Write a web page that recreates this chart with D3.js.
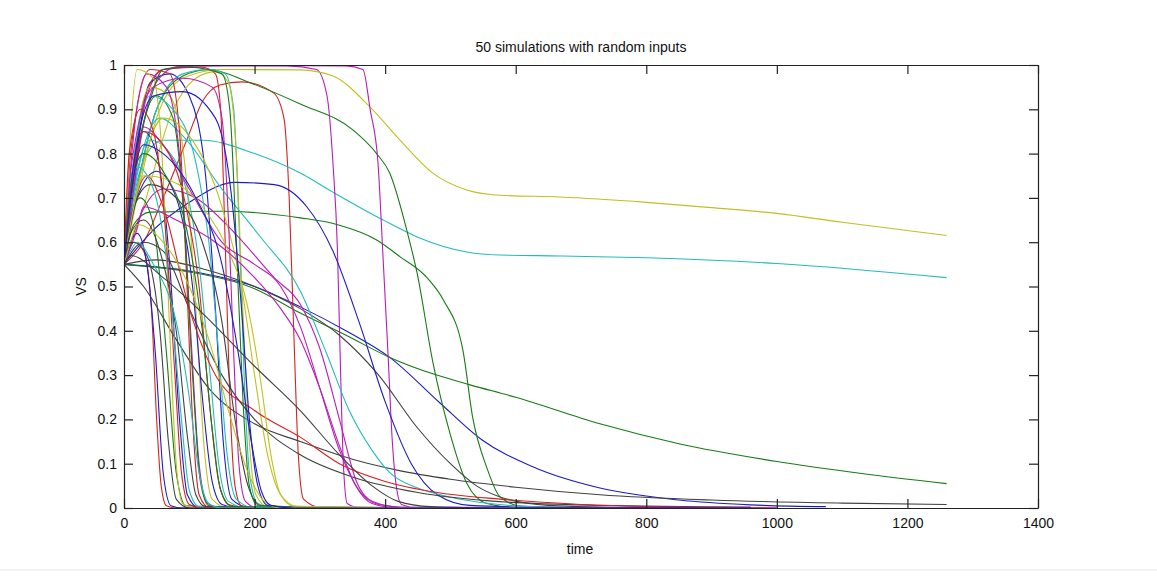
<!DOCTYPE html>
<head>
    <meta charset="utf-8">
    <title>50 simulations with random inputs</title>
    <script src="https://d3js.org/d3.v7.min.js"></script>
    <style>
        body{
            margin: 0;
            background: #ffffff;
        }
        text{
            font-family: "Liberation Sans", Arial, sans-serif;
            font-size: 14px;
            fill: #111111;
        }
        .tick text{
            font-size: 14px;
            fill: #111111;
        }
        .tick line, path.domain{
            stroke: #222222;
            stroke-width: 1.2;
        }
        path.run{
            fill: none;
            stroke-width: 1.1;
        }
    </style>
</head>
<body>
<script>
    // x / y ticks as in the original figure
    const xTicks = [0, 200, 400, 600, 800, 1000, 1200, 1400];
    const yTicks = [0, 0.1, 0.2, 0.3, 0.4, 0.5, 0.6, 0.7, 0.8, 0.9, 1];

    // default colour order, run i uses colourOrder[i % 7]
    const colourOrder = ["#1c1cc4", "#187a18", "#d82020", "#22bcbc", "#b81cb8", "#c0c020", "#404040"];

    // each run: [time, VS] points
    const runs = [
        [[0,.55],[100,.535],[200,.5],[270,.454],[340,.4],[407,.34],[484,.237],[548,.154],[626,.093],[729,.045],[850,.018],[960,.007],[1075,.003]],
        [[0,.55],[100,.533],[200,.495],[270,.44],[340,.39],[407,.34],[479,.30],[530,.278],[600,.25],[729,.19],[850,.145],[1000,.105],[1130,.078],[1260,.055]],
        [[0,.55],[30,.6],[60,.7],[96,.83],[121,.92],[147,.955],[180,.962],[229,.937],[245,.88],[253,.7],[260,.4],[267,.12],[275,.02],[300,.002],[560,0]],
        [[0,.55],[15,.7],[35,.8],[60,.83],[120,.83],[200,.8],[270,.756],[320,.713],[397,.65],[449,.612],[525,.578],[576,.571],[668,.569],[800,.565],[1000,.552],[1260,.52]],
        [[0,.55],[15,.75],[35,.93],[60,.99],[100,.998],[250,.998],[295,.99],[311,.93],[320,.78],[327,.58],[331,.35],[336,.1],[342,.01],[360,.001],[700,0]],
        [[0,.55],[20,.7],[50,.88],[90,.97],[150,.99],[270,.989],[320,.975],[377,.905],[423,.83],[473,.756],[525,.718],[576,.706],[668,.702],[800,.69],[900,.678],[1000,.665],[1100,.645],[1260,.615]],
        [[0,.55],[30,.5],[80,.38],[130,.27],[200,.19],[270,.15],[350,.11],[420,.085],[500,.065],[600,.047],[729,.03],[900,.018],[1100,.011],[1260,.008]],
        [[0,.55],[15,.75],[40,.96],[70,.98],[100,.93],[125,.75],[140,.45],[152,.15],[165,.02],[190,.002],[420,0]],
        [[0,.55],[20,.72],[50,.9],[90,.975],[130,.99],[193,.96],[270,.912],[351,.853],[387,.8],[407,.756],[433,.628],[449,.53],[473,.33],[499,.17],[525,.056],[556,.01],[600,.001],[860,0]],
        [[0,.55],[10,.7],[30,.92],[60,.99],[120,.995],[140,.98],[148,.9],[155,.6],[162,.25],[170,.05],[180,.005],[200,0],[360,0]],
        [[0,.55],[20,.72],[50,.9],[90,.98],[130,.99],[155,.98],[168,.9],[176,.65],[184,.3],[192,.08],[205,.01],[230,.001],[640,0]],
        [[0,.55],[20,.78],[45,.95],[80,.995],[150,.999],[340,.998],[366,.99],[377,.9],[389,.78],[397,.56],[404,.36],[411,.15],[418,.04],[425,.008],[450,0],[900,0]],
        [[0,.55],[30,.68],[70,.88],[110,.97],[140,.985],[160,.96],[172,.8],[182,.45],[192,.15],[202,.03],[220,.003],[500,0]],
        [[0,.55],[50,.56],[120,.54],[200,.5],[270,.45],[330,.39],[390,.3],[450,.18],[500,.1],[540,.05],[576,.025],[650,.006],[800,0]],
        [[0,.55],[40,.62],[100,.69],[170,.735],[230,.73],[280,.68],[320,.58],[360,.42],[400,.24],[440,.1],[480,.03],[530,.006],[700,0]],
        [[0,.55],[15,.64],[40,.668],[150,.67],[270,.655],[326,.64],[387,.605],[423,.567],[464,.52],[489,.47],[519,.357],[534,.205],[556,.09],[576,.025],[610,.004],[760,0]],
        [[0,.55],[15,.6],[30,.58],[42,.45],[50,.2],[57,.05],[65,.005],[80,0],[220,0]],
        [[0,.55],[20,.75],[55,.88],[90,.84],[150,.72],[210,.61],[270,.49],[310,.35],[345,.22],[380,.13],[407,.08],[450,.045],[499,.025],[560,.01],[650,.002],[780,0]],
        [[0,.55],[25,.66],[60,.72],[110,.7],[170,.62],[230,.52],[270,.46],[300,.36],[330,.2],[356,.06],[380,.015],[420,.002],[700,0]],
        [[0,.55],[12,.75],[40,.95],[70,.93],[95,.75],[110,.45],[122,.15],[135,.02],[160,0],[300,0]],
        [[0,.55],[15,.6],[35,.57],[55,.4],[68,.15],[80,.02],[100,0],[260,0]],
        [[0,.55],[12,.75],[30,.85],[50,.8],[70,.55],[85,.2],[97,.03],[115,0],[340,0]],
        [[0,.55],[10,.65],[25,.7],[45,.64],[65,.35],[80,.08],[95,.005],[250,0]],
        [[0,.55],[10,.8],[40,.99],[70,.98],[85,.85],[95,.55],[105,.2],[115,.03],[130,.002],[300,0]],
        [[0,.55],[15,.72],[40,.83],[80,.78],[115,.55],[132,.3],[145,.1],[160,.015],[190,0],[420,0]],
        [[0,.55],[12,.8],[35,.98],[65,.95],[88,.75],[102,.4],[115,.1],[128,.01],[150,0],[260,0]],
        [[0,.55],[25,.75],[60,.88],[100,.84],[150,.68],[180,.5],[200,.3],[220,.12],[240,.03],[265,.004],[500,0]],
        [[0,.55],[30,.6],[60,.58],[100,.45],[150,.3],[200,.2],[270,.12],[350,.07],[450,.035],[560,.016],[729,.006],[960,.002]],
        [[0,.55],[20,.7],[50,.76],[80,.7],[105,.5],[120,.25],[135,.06],[150,.008],[175,0],[480,0]],
        [[0,.55],[15,.75],[50,.93],[75,.88],[92,.65],[105,.3],[117,.06],[130,.005],[200,0]],
        [[0,.55],[15,.68],[35,.75],[60,.68],[100,.45],[140,.3],[200,.22],[270,.16],[330,.1],[400,.06],[480,.035],[576,.02],[700,.008],[850,.002],[1000,0]],
        [[0,.55],[12,.75],[40,.93],[75,.9],[110,.78],[130,.6],[145,.35],[158,.12],[172,.02],[200,0],[560,0]],
        [[0,.55],[15,.72],[30,.86],[60,.82],[100,.72],[150,.6],[200,.55],[240,.5],[270,.41],[300,.27],[330,.13],[360,.04],[390,.008],[450,0],[620,0]],
        [[0,.55],[8,.8],[20,.99],[45,.97],[60,.75],[70,.4],[80,.1],[90,.01],[110,0],[280,0]],
        [[0,.55],[15,.68],[40,.73],[80,.7],[120,.6],[150,.42],[170,.2],[190,.05],[210,.005],[400,0]],
        [[0,.55],[10,.6],[20,.62],[35,.55],[48,.35],[60,.08],[72,.005],[90,0],[150,0]],
        [[0,.55],[15,.75],[40,.92],[60,.99],[100,.995],[150,.98],[162,.9],[172,.6],[182,.25],[192,.05],[205,.005],[300,0]],
        [[0,.55],[12,.72],[30,.85],[60,.82],[95,.68],[115,.5],[130,.25],[145,.06],[160,.008],[190,0],[380,0]],
        [[0,.55],[8,.7],[20,.77],[45,.72],[70,.5],[88,.2],[100,.04],[115,.003],[340,0]],
        [[0,.55],[12,.78],[45,.95],[90,.97],[135,.95],[150,.88],[160,.65],[168,.35],[176,.1],[186,.015],[205,0],[460,0]],
        [[0,.55],[15,.68],[30,.75],[70,.74],[120,.68],[160,.58],[190,.45],[210,.28],[225,.12],[240,.03],[260,.004],[540,0]],
        [[0,.55],[10,.62],[30,.65],[55,.58],[80,.4],[98,.15],[110,.03],[125,.003],[300,0]],
        [[0,.55],[15,.78],[45,.93],[90,.94],[140,.88],[165,.7],[180,.45],[192,.2],[205,.05],[220,.006],[260,0],[880,0]],
        [[0,.55],[10,.72],[30,.8],[60,.76],[100,.6],[120,.4],[135,.18],[148,.04],[165,.004],[300,0]],
        [[0,.55],[8,.8],[25,.9],[45,.85],[65,.6],[78,.3],[88,.08],[100,.008],[120,0],[200,0]],
        [[0,.55],[10,.58],[20,.6],[45,.55],[80,.42],[100,.25],[115,.08],[130,.01],[150,0],[500,0]],
        [[0,.55],[20,.63],[30,.68],[80,.65],[140,.6],[200,.52],[240,.45],[270,.38],[300,.27],[330,.14],[355,.05],[380,.01],[420,0],[1000,0]],
        [[0,.55],[10,.6],[20,.64],[60,.6],[100,.5],[130,.38],[160,.22],[190,.08],[215,.015],[240,0],[600,0]],
        [[0,.55],[10,.57],[60,.52],[120,.44],[200,.32],[270,.22],[330,.12],[380,.05],[420,.015],[470,.003],[560,0]],
        [[0,.55],[12,.72],[30,.82],[60,.8],[110,.7],[150,.55],[175,.35],[195,.15],[210,.04],[225,.006],[260,0],[960,0]]
    ];

    var width = 1157;
    var height = 584;

    const margin = {
        top: 65,
        right: 119,
        bottom: 76,
        left: 124
    };

    var svg = d3.select("body").append("svg")
        .attr("width", width)
        .attr("height", height);

    // faint frame line near the bottom of the figure window
    svg.append("line")
        .attr("x1", 0).attr("x2", width)
        .attr("y1", 570).attr("y2", 570)
        .style("stroke", "#e6e6e6");

    let x = d3.scaleLinear()
        .domain([0, 1400])
        .range([margin.left, width - margin.right]);

    let y = d3.scaleLinear()
        .domain([0, 1])
        .range([height - margin.bottom, margin.top]);

    svg.append("clipPath")
        .attr("id", "plotArea")
        .append("rect")
        .attr("x", x(0))
        .attr("y", y(1) - 1)
        .attr("width", x(1400) - x(0))
        .attr("height", y(0) - y(1) + 2);

    let line = d3.line()
        .x(d => x(d[0]))
        .y(d => y(d[1]))
        .curve(d3.curveMonotoneX);

    //Draw runs
    svg.append("g")
        .attr("clip-path", "url(#plotArea)")
        .selectAll("path.run")
        .data(runs)
        .enter()
        .append("path")
        .attr("class", "run")
        .attr("d", line)
        .style("stroke", (d, i) => colourOrder[i % colourOrder.length]);

    // box with inward ticks on all four sides
    const tickLen = 9;

    svg.append("g")
        .attr("class", "axis xAxis")
        .attr("transform", `translate(0, ${y(0)})`)
        .call(d3.axisBottom(x).tickValues(xTicks).tickSize(-tickLen).tickSizeOuter(0).tickPadding(10).tickFormat(d3.format("d")));

    svg.append("g")
        .attr("class", "axis")
        .attr("transform", `translate(0, ${y(1)})`)
        .call(d3.axisTop(x).tickValues(xTicks).tickSize(-tickLen).tickSizeOuter(0).tickFormat(""));

    svg.append("g")
        .attr("class", "axis yAxis")
        .attr("transform", `translate(${x(0)}, 0)`)
        .call(d3.axisLeft(y).tickValues(yTicks).tickSize(-tickLen).tickSizeOuter(0).tickPadding(7).tickFormat(d => d3.format("~g")(d)));

    svg.append("g")
        .attr("class", "axis")
        .attr("transform", `translate(${x(1400)}, 0)`)
        .call(d3.axisRight(y).tickValues(yTicks).tickSize(-tickLen).tickSizeOuter(0).tickFormat(""));

    // hide ticks that fall on the box corners
    svg.selectAll(".axis .tick line")
        .filter(function() { return false; });

    //Title and labels
    svg.append("text")
        .attr("x", (x(0) + x(1400)) / 2)
        .attr("y", 52)
        .style("text-anchor", "middle")
        .text("50 simulations with random inputs");

    svg.append("text")
        .attr("x", 580)
        .attr("y", 554)
        .style("text-anchor", "middle")
        .text("time");

    svg.append("text")
        .attr("transform", `translate(86, ${(y(0) + y(1)) / 2}) rotate(-90)`)
        .style("text-anchor", "middle")
        .text("VS");
</script>
</body>
